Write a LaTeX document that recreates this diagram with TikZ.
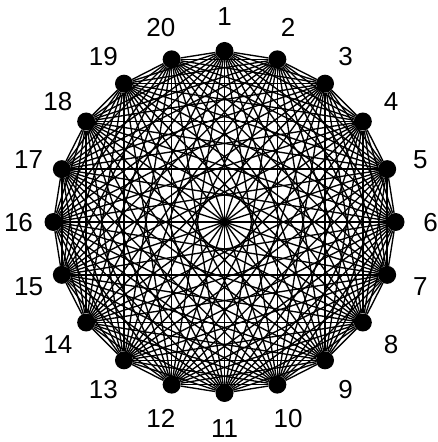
\documentclass[tikz,border=0pt]{standalone}
\usepackage{fontspec}
\setmainfont{Liberation Sans}
\usetikzlibrary{positioning}

\begin{document}
\begin{tikzpicture}[x=1pt, y=1pt,
  vertex/.style={circle, fill=black, inner sep=0pt, minimum size=18pt},
  edge/.style={line width=1.35pt},
  vlabel/.style={font=\fontsize{26}{30}\selectfont, inner sep=0pt}]
\useasboundingbox (0,0) rectangle (437,442);

% Vertices and their numbers
\foreach \k in {1,...,20} {
  \pgfmathsetmacro\ang{90-18*(\k-1)}
  \node[vertex] (v\k) at ({224.5+171*cos(\ang)}, {220+171*sin(\ang)}) {};
  \node[vlabel] (l\k) at ({224.5+206*cos(\ang)}, {219+206*sin(\ang)}) {\k};
}

% Every pair joined
\foreach \i in {1,...,19} {
  \pgfmathtruncatemacro\nxt{\i+1}
  \foreach \j in {\nxt,...,20}
    \draw[edge] (v\i) -- (v\j);
}
\end{tikzpicture}
\end{document}
